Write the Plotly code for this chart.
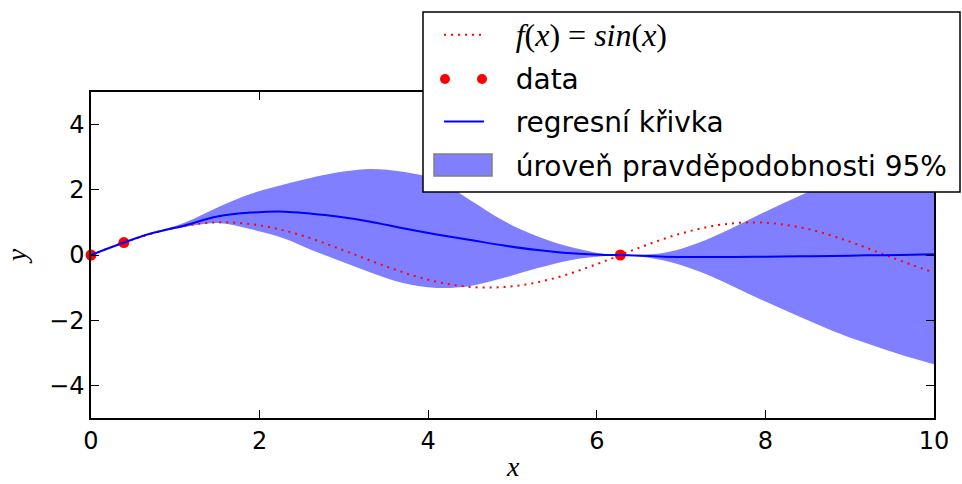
import plotly.graph_objects as go

# sin(x) reference curve
x_sin = [0, 0.5, 1.0, 1.5, 2.0, 2.5, 3.0, 3.5, 4.0, 4.5, 5.0, 5.5, 6.0, 6.5, 7.0, 7.5, 8.0, 8.5, 9.0, 9.5, 10.0]
y_sin = [0.0, 0.48, 0.84, 1.0, 0.91, 0.6, 0.14, -0.35, -0.76, -0.98, -0.96, -0.71, -0.28, 0.22, 0.66, 0.94, 0.99, 0.8, 0.41, -0.08, -0.54]

# observed data
x_data = [0.0, 0.39, 6.28]
y_data = [0.0, 0.38, 0.0]

# regression curve and 95 % band
x_grid = [0, 0.4, 0.7, 1.1, 1.5, 1.9, 2.3, 2.6, 2.9, 3.3, 3.7, 4.1, 4.5, 4.9, 5.3, 5.7, 6.1, 6.28,
          6.8, 7.2, 7.6, 8.0, 8.4, 8.8, 9.2, 9.6, 10]
y_mean = [0.0, 0.39, 0.65, 0.9, 1.18, 1.3, 1.33, 1.27, 1.19, 1.03, 0.82, 0.63, 0.46, 0.29, 0.15, 0.05, 0.0, 0.0,
          -0.05, -0.06, -0.06, -0.05, -0.04, -0.03, -0.01, 0.0, 0.02]
y_upper = [0.0, 0.39, 0.66, 0.98, 1.46, 1.88, 2.17, 2.36, 2.52, 2.64, 2.55, 2.3, 1.68, 1.04, 0.57, 0.24, 0.03, 0.0,
           0.07, 0.37, 0.82, 1.33, 1.81, 2.27, 2.69, 3.05, 3.35]
y_lower = [0.0, 0.39, 0.64, 0.85, 0.98, 0.79, 0.5, 0.17, -0.13, -0.52, -0.86, -1.01, -0.95, -0.7, -0.4, -0.15, -0.03, 0.0,
           -0.17, -0.49, -0.94, -1.43, -1.89, -2.33, -2.71, -3.05, -3.35]

x_ticks = [0, 2, 4, 6, 8, 10]
y_ticks = [-4, -2, 0, 2, 4]

BAND = "rgba(0,0,255,0.5)"
FONT = "DejaVu Sans"
MATH = "Liberation Serif"
PAD = "\u00a0\u00a0\u00a0"
CLEAR = "rgba(0,0,0,0)"

fig = go.Figure()
fig.add_trace(go.Scatter(x=x_grid, y=y_lower, mode="lines", line=dict(width=0, shape="spline"),
                         showlegend=False, hoverinfo="skip"))
fig.add_trace(go.Scatter(x=x_grid, y=y_upper, mode="lines", line=dict(width=0, shape="spline"),
                         fill="tonexty", fillcolor=BAND, showlegend=False, hoverinfo="skip"))
fig.add_trace(go.Scatter(x=x_sin, y=y_sin, mode="lines", line=dict(color="red", width=2, dash="2px,5px", shape="spline"),
                         legendgroup="sin", legendrank=1,
                         name=PAD + "<span style='font-family:" + MATH + ";font-size:32px'>"
                              "<i>f</i>(<i>x</i>) = <i>sin</i>(<i>x</i>)</span>"))
fig.add_trace(go.Scatter(x=x_data, y=y_data, mode="markers", marker=dict(color="red", size=11),
                         showlegend=False, cliponaxis=False))
fig.add_trace(go.Scatter(x=x_grid, y=y_mean, mode="lines", line=dict(color="blue", width=2, shape="spline"),
                         legendgroup="reg", legendrank=3, name=PAD + "regresní křivka"))
# legend-only entries whose handles are drawn as layout shapes (two dots, framed patch)
fig.add_trace(go.Scatter(x=[None], y=[None], mode="markers", marker=dict(color=CLEAR, size=11),
                         legendgroup="data", legendrank=2, name=PAD + "data"))
fig.add_trace(go.Scatter(x=[None], y=[None], mode="lines", line=dict(color=CLEAR, width=1),
                         legendgroup="band", legendrank=4, name=PAD + "úroveň pravděpodobnosti 95%"))

L, R, T, B = 91, 934, 92, 418
W, H = 962, 484
pw, ph = R - L, B - T

def px(xp):
    return (xp - L) / pw

def py(yp):
    return (B - yp) / ph

# legend frame
fig.add_shape(type="rect", xref="paper", yref="paper", x0=px(423), x1=px(960), y0=py(192), y1=py(12),
              line=dict(color="black", width=1.5), fillcolor="white", layer="above")
# legend handle: two data dots
for cx in (445, 482):
    fig.add_shape(type="circle", xref="paper", yref="paper", x0=px(cx - 5), x1=px(cx + 5),
                  y0=py(79 + 5), y1=py(79 - 5), line=dict(width=0), fillcolor="red", layer="above")
# legend handle: band patch
fig.add_shape(type="rect", xref="paper", yref="paper", x0=px(434), x1=px(492), y0=py(176), y1=py(154),
              line=dict(color="gray", width=1.5), fillcolor="#8080ff", layer="above")

axis_common = dict(showline=True, linecolor="black", linewidth=1.5, mirror="allticks", ticks="inside",
                   ticklen=8, tickwidth=1, tickcolor="black", showgrid=False, zeroline=False,
                   automargin=False, tickfont=dict(family=FONT, size=24, color="black"))

fig.update_xaxes(range=[0, 10], tickvals=x_ticks, **axis_common)
fig.update_yaxes(range=[-5, 5], tickvals=y_ticks, **axis_common,
                 title=dict(text="<i>y</i>", font=dict(family=MATH, size=28, color="black"), standoff=14))

fig.add_annotation(text="<i>x</i>", xref="paper", yref="paper", x=0.5, y=py(483), xanchor="center",
                   yanchor="bottom", showarrow=False, borderpad=0,
                   font=dict(family=MATH, size=28, color="black"))

fig.update_layout(
    width=W, height=H,
    margin=dict(l=L, r=W - R, t=T, b=H - B, pad=0, autoexpand=False),
    plot_bgcolor="white", paper_bgcolor="white",
    font=dict(family=FONT, size=24, color="black"),
    legend=dict(x=px(439), y=py(10), xanchor="left", yanchor="top", bgcolor=CLEAR,
                borderwidth=0, font=dict(family=FONT, size=28, color="black"),
                traceorder="grouped", tracegroupgap=4, itemwidth=40),
)

fig.write_html("out.html")
